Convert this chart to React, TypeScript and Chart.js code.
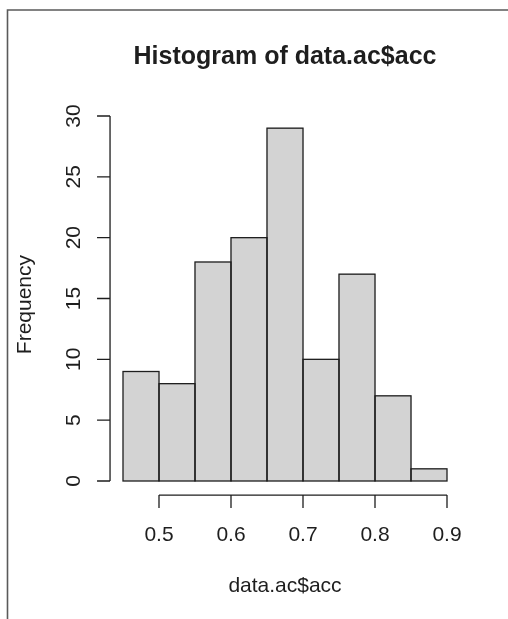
import React, { useEffect, useRef } from "react";
import { Chart, registerables } from "chart.js";

Chart.register(...registerables);

const breaks = [0.45, 0.5, 0.55, 0.6, 0.65, 0.7, 0.75, 0.8, 0.85, 0.9];
const counts = [9, 8, 18, 20, 29, 10, 17, 7, 1];
const xTicks = [0.5, 0.6, 0.7, 0.8, 0.9];
const yTicks = [0, 5, 10, 15, 20, 25, 30];
const titleText = "Histogram of data.ac$acc";
const xTitle = "data.ac$acc";
const yTitle = "Frequency";

const FONT = "'Liberation Sans', Arial, sans-serif";
const INK = "#1e1e1e";

const rAxesPlugin = {
  id: "rAxes",
  afterDatasetsDraw(chart: any) {
    const ctx = chart.ctx;
    const meta = chart.getDatasetMeta(0);
    ctx.save();
    ctx.strokeStyle = INK;
    ctx.lineWidth = 1.3;
    for (const el of meta.data) {
      const p = el.getProps(["x", "y", "base", "width"], true);
      const l = p.x - p.width / 2;
      ctx.strokeRect(l, p.y, p.width, p.base - p.y);
    }
    ctx.restore();
  },
  afterDraw(chart: any) {
    const ctx = chart.ctx;
    const xs = chart.scales.x;
    const ys = chart.scales.y;
    const xMin = breaks[0];
    const xMax = breaks[breaks.length - 1];
    const yMaxData = Math.max(...counts);
    const axisX = xs.getPixelForValue(xMin - 0.04 * (xMax - xMin));
    const axisY = ys.getPixelForValue(-0.04 * yMaxData);
    const tick = 13;
    ctx.save();
    // frame
    ctx.strokeStyle = "#5a5a5a";
    ctx.lineWidth = 1.6;
    ctx.beginPath();
    ctx.moveTo(7.5, chart.height);
    ctx.lineTo(7.5, 10);
    ctx.lineTo(chart.width, 10);
    ctx.stroke();

    ctx.strokeStyle = INK;
    ctx.lineWidth = 1.3;
    // y axis
    const y0 = ys.getPixelForValue(yTicks[0]);
    const y1 = ys.getPixelForValue(yTicks[yTicks.length - 1]);
    ctx.beginPath();
    ctx.moveTo(axisX, y0);
    ctx.lineTo(axisX, y1);
    for (const t of yTicks) {
      const py = ys.getPixelForValue(t);
      ctx.moveTo(axisX, py);
      ctx.lineTo(axisX - tick, py);
    }
    // x axis
    const x0 = xs.getPixelForValue(xTicks[0]);
    const x1 = xs.getPixelForValue(xTicks[xTicks.length - 1]);
    ctx.moveTo(x0, axisY);
    ctx.lineTo(x1, axisY);
    for (const t of xTicks) {
      const px = xs.getPixelForValue(t);
      ctx.moveTo(px, axisY);
      ctx.lineTo(px, axisY + tick);
    }
    ctx.stroke();

    ctx.fillStyle = INK;
    ctx.font = `21px ${FONT}`;
    ctx.textAlign = "center";
    ctx.textBaseline = "alphabetic";
    for (const t of xTicks) {
      ctx.fillText(t.toFixed(1), xs.getPixelForValue(t), 541);
    }
    for (const t of yTicks) {
      ctx.save();
      ctx.translate(80, ys.getPixelForValue(t));
      ctx.rotate(-Math.PI / 2);
      ctx.fillText(String(t), 0, 0);
      ctx.restore();
    }
    const cx = (xs.getPixelForValue(xMin) + xs.getPixelForValue(xMax)) / 2;
    const cy = (ys.getPixelForValue(-0.04 * yMaxData) + ys.getPixelForValue(1.04 * yMaxData)) / 2;
    ctx.font = `21px ${FONT}`;
    ctx.fillText(xTitle, cx, 592);
    ctx.save();
    ctx.translate(31, cy);
    ctx.rotate(-Math.PI / 2);
    ctx.fillText(yTitle, 0, 0);
    ctx.restore();
    ctx.font = `bold 25px ${FONT}`;
    ctx.fillText(titleText, cx, 64);
    ctx.restore();
  },
};

export default function App() {
  const ref = useRef<HTMLCanvasElement | null>(null);
  useEffect(() => {
    if (!ref.current) return;
    const centers = counts.map((_, i) => (breaks[i] + breaks[i + 1]) / 2);
    const chart = new Chart(ref.current, {
      type: "bar",
      data: {
        datasets: [
          {
            data: counts.map((c, i) => ({ x: centers[i], y: c })),
            backgroundColor: "#D3D3D3",
            borderWidth: 0,
            barPercentage: 1,
            categoryPercentage: 1,
          },
        ],
      },
      options: {
        animation: false,
        responsive: false,
        devicePixelRatio: 1,
        layout: { padding: { left: 123, right: 61, top: 116, bottom: 138 } },
        plugins: { legend: { display: false }, tooltip: { enabled: false }, title: { display: false } },
        scales: {
          x: { type: "linear", min: breaks[0], max: breaks[breaks.length - 1], offset: false, display: false },
          y: { type: "linear", min: 0, max: 30, display: false },
        },
      },
      plugins: [rAxesPlugin],
    });
    return () => chart.destroy();
  }, []);
  return (
    <div style={{ position: "absolute", left: 0, top: 0, width: 508, height: 619, background: "#fff" }}>
      <canvas ref={ref} width={508} height={619} style={{ width: 508, height: 619, display: "block" }} />
    </div>
  );
}
